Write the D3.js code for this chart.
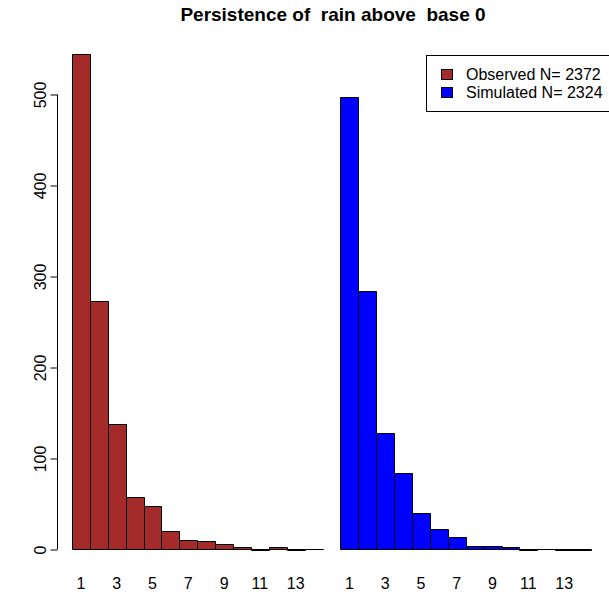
<!DOCTYPE html>
<html>
<head>
<meta charset="utf-8">
<script src="https://cdn.jsdelivr.net/npm/d3@7"></script>
<style>
  body { margin: 0; background: #fff; }
  text { font-family: "Liberation Sans", Arial, sans-serif; }
</style>
</head>
<body>
<script>
// persistence length categories
var lengths = [1, 2, 3, 4, 5, 6, 7, 8, 9, 10, 11, 12, 13, 14];
var tickLabels = ["1", "3", "5", "7", "9", "11", "13"];
var observed = [545, 273, 138, 58, 48, 20, 10, 9, 6, 3, 0, 3, 0, 1];
var simulated = [497, 284, 128, 84, 40, 22, 14, 4, 4, 3, 0, 1, 0, 0];
var yTicks = [0, 100, 200, 300, 400, 500];
var seriesNames = ["Observed N= 2372", "Simulated N= 2324"];
var seriesColors = ["#a52a2a", "#0000ff"];

var svgWidth = 609;
var svgHeight = 600;

var svg = d3.select("body")
  .append("svg")
  .attr("width", svgWidth)
  .attr("height", svgHeight);

// 14 bars, one empty slot, 14 bars
var slots = d3.range(29);
var xScale = d3.scaleBand()
  .domain(slots)
  .range([72, 591])
  .padding(0);

var yScale = d3.scaleLinear()
  .domain([0, 500])
  .range([549.5, 94.5]);

var groups = [
  { values: observed, offset: 0, color: seriesColors[0] },
  { values: simulated, offset: 15, color: seriesColors[1] }
];

groups.forEach(function(g) {
  svg.append("g")
    .selectAll("path")
    .data(g.values)
    .enter()
    .append("path")
    .attr("d", function(d, i) {
      var x0 = Math.round(xScale(i + g.offset)) + 0.5;
      var x1 = Math.round(xScale(i + g.offset) + xScale.bandwidth()) + 0.5;
      var y0 = yScale(0);
      var y1 = Math.round(yScale(d)) + 0.5;
      return "M" + x0 + "," + y0 + "H" + x1 + "V" + y1 + "H" + x0 + "Z";
    })
    .attr("fill", g.color)
    .attr("stroke", "#000")
    .attr("stroke-width", 1);

  // x labels under odd bars
  svg.append("g")
    .selectAll("text")
    .data(tickLabels)
    .enter()
    .append("text")
    .attr("x", function(d) { return xScale(+d - 1 + g.offset) + xScale.bandwidth() / 2; })
    .attr("y", 589)
    .attr("text-anchor", "middle")
    .attr("font-size", 16)
    .text(function(d) { return d; });
});

// y axis
var leftAxis = d3.axisLeft(yScale)
  .tickValues(yTicks)
  .tickSize(7)
  .tickPadding(0)
  .tickFormat(d3.format("d"));

var yAxis = svg.append("g")
  .attr("transform", "translate(57.5,0)")
  .call(leftAxis);

yAxis.select(".domain").attr("stroke", "#000").attr("d", "M0," + yScale(0) + "V" + yScale(500));
yAxis.selectAll(".tick line").attr("stroke", "#000");
yAxis.selectAll(".tick text")
  .attr("font-family", "Liberation Sans, Arial, sans-serif")
  .attr("font-size", 16)
  .attr("fill", "#000")
  .attr("text-anchor", "middle")
  .attr("transform", "translate(-17,0) rotate(-90)")
  .attr("x", 0)
  .attr("dy", "0.35em");

// title
svg.append("text")
  .attr("x", 333)
  .attr("y", 21)
  .attr("text-anchor", "middle")
  .attr("font-size", 19)
  .attr("font-weight", "bold")
  .style("white-space", "pre")
  .text("Persistence of  rain above  base 0");

// legend
var legend = svg.append("g");
legend.append("rect")
  .attr("x", 426.5)
  .attr("y", 55.5)
  .attr("width", 190)
  .attr("height", 56)
  .attr("fill", "#fff")
  .attr("stroke", "#000");

seriesNames.forEach(function(name, i) {
  legend.append("rect")
    .attr("x", 441.5)
    .attr("y", 69.5 + i * 18)
    .attr("width", 11)
    .attr("height", 10)
    .attr("fill", seriesColors[i])
    .attr("stroke", "#000");
  legend.append("text")
    .attr("x", 466)
    .attr("y", 80 + i * 18)
    .attr("font-size", 16)
    .text(name);
});
</script>
</body>
</html>
